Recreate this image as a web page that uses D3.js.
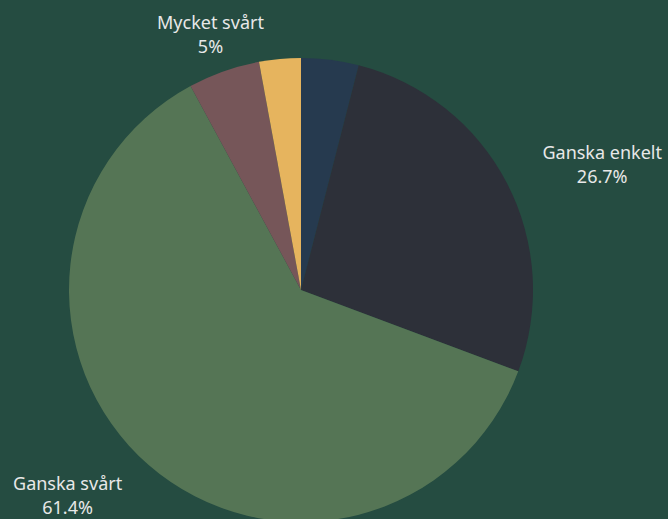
<!DOCTYPE html>
<html>
<head>
    <meta charset="utf-8">
    <script src="https://d3js.org/d3.v7.min.js"></script>
    <style>
        body { margin: 0; background: #254c41; }
        .label { font-family: "Noto Sans", sans-serif; font-size: 18px; fill: #e8e8e8; }
    </style>
</head>
<body>
    <div id="chart"></div>
    <script>
        // Data (clockwise from 12 o'clock)
        const categories = ["Mycket enkelt", "Ganska enkelt", "Ganska svårt", "Mycket svårt", "Vet ej"];
        const values = [4.0, 26.7, 61.4, 5.0, 2.9];
        const colors = ["#263a4f", "#2d3039", "#557555", "#765659", "#e6b45e"];
        const showLabel = [false, true, true, true, false];

        const width = 668, height = 519;
        const cx = 301, cy = 290, radius = 232;
        const labelRadius = 272;
        const lineHeight = 24;

        const svg = d3.select("#chart")
            .append("svg")
            .attr("width", width)
            .attr("height", height);

        const g = svg.append("g")
            .attr("transform", `translate(${cx},${cy})`);

        const pie = d3.pie().sort(null).value(d => d.value);
        const arc = d3.arc().innerRadius(0).outerRadius(radius);

        const data = categories.map((c, i) => ({name: c, value: values[i], color: colors[i], show: showLabel[i]}));
        const arcs = pie(data);

        g.selectAll("path")
            .data(arcs)
            .join("path")
            .attr("d", arc)
            .attr("fill", d => d.data.color);

        // Labels: two centred lines, block pushed outward from a point on the mid angle
        const lab = g.selectAll("text")
            .data(arcs.filter(d => d.data.show))
            .join("text")
            .attr("class", "label")
            .attr("text-anchor", "middle");

        lab.append("tspan")
            .attr("x", 0)
            .attr("y", -lineHeight / 2 + 7)
            .text(d => d.data.name);

        lab.append("tspan")
            .attr("x", 0)
            .attr("y", lineHeight / 2 + 7)
            .text(d => d.data.value + "%");

        lab.attr("transform", function(d) {
            const a = (d.startAngle + d.endAngle) / 2;
            const s = Math.sin(a);
            const w = this.getBBox().width;
            const side = Math.abs(s) < 0.5 ? 0 : Math.sign(s);
            const x = labelRadius * s + side * w / 2;
            const y = -labelRadius * Math.cos(a);
            return `translate(${x},${y})`;
        });
    </script>
</body>
</html>
